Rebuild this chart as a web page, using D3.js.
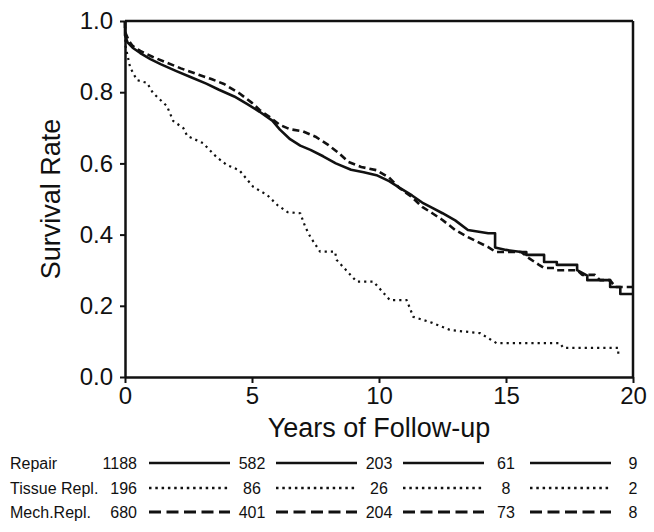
<!DOCTYPE html>
<html><head><meta charset="utf-8">
<script src="https://cdn.jsdelivr.net/npm/d3@7"></script>
<style>
html,body{margin:0;padding:0;background:#fff;}
svg text{font-family:"Liberation Sans",Arial,sans-serif;fill:#111;}
</style></head>
<body><svg id="chart" width="654" height="532"></svg>
<script>
// ---- data ----
const repairTimes = [0,0,0.1,0.3,0.6,1.0,1.4,2.0,2.6,3.2,3.7,4.3,4.8,5.3,5.8,6.1,6.5,6.9,7.3,7.8,8.3,8.9,9.4,9.9,10.4,10.8,11.3,11.7,12.1,12.5,13.0,13.5,14.3,14.57,14.57,15.0,15.6,15.8,15.8,16.5,16.5,17.0,17.0,17.8,17.8,18.2,18.2,19.1,19.1,19.5,19.5,20];
const repairSurv  = [1.0,0.96,0.94,0.925,0.91,0.893,0.879,0.86,0.842,0.824,0.807,0.788,0.767,0.745,0.72,0.695,0.668,0.65,0.638,0.62,0.60,0.582,0.575,0.567,0.55,0.532,0.51,0.49,0.475,0.46,0.44,0.413,0.404,0.404,0.364,0.357,0.351,0.351,0.343,0.343,0.323,0.323,0.315,0.315,0.30,0.285,0.272,0.272,0.253,0.253,0.233,0.233];
const tissueTimes = [0,0.02,0.2,0.47,0.87,1.1,1.65,1.9,2.3,2.45,3.07,3.6,4.0,4.5,5.05,5.6,6.0,6.4,6.9,7.1,7.3,7.68,8.27,8.33,9.12,9.78,10.43,11.09,11.35,12.1,12.8,13.98,14.63,17.13,17.25,19.42,19.42];
const tissueSurv  = [1.0,0.93,0.87,0.834,0.826,0.798,0.761,0.719,0.699,0.677,0.657,0.618,0.596,0.581,0.534,0.511,0.483,0.463,0.46,0.421,0.393,0.352,0.352,0.329,0.268,0.268,0.216,0.216,0.169,0.152,0.132,0.123,0.095,0.095,0.082,0.082,0.064];
const mechTimes = [0,0,0.15,0.3,0.6,1.1,1.6,2.2,2.9,3.4,3.9,4.5,5.0,5.3,5.7,6.1,6.5,7.0,7.5,8.0,8.4,8.8,9.3,9.9,10.4,10.8,11.3,11.7,12.1,12.5,13.0,13.5,13.9,14.3,14.6,15.6,15.9,16.3,16.5,16.9,17.0,17.8,18.0,18.5,18.7,19.1,19.3,20];
const mechSurv  = [1.0,0.97,0.945,0.93,0.916,0.899,0.884,0.867,0.849,0.837,0.823,0.797,0.77,0.75,0.73,0.708,0.696,0.69,0.675,0.652,0.63,0.604,0.59,0.581,0.56,0.531,0.505,0.478,0.46,0.441,0.413,0.393,0.379,0.365,0.351,0.351,0.334,0.315,0.306,0.306,0.30,0.30,0.287,0.287,0.272,0.272,0.253,0.253];

const xTicks = [0,5,10,15,20];
const yTicks = [0,0.2,0.4,0.6,0.8,1.0];
const groupNames = ["Repair","Tissue Repl.","Mech.Repl."];
const atRiskRepair = [1188,582,203,61,9];
const atRiskTissue = [196,86,26,8,2];
const atRiskMech   = [680,401,204,73,8];
const xTitle = "Years of Follow-up";
const yTitle = "Survival Rate";

// ---- layout ----
const svg = d3.select("#chart");
const L=125, R=633, T=21, B=377;
const x = d3.scaleLinear().domain([0,20]).range([L,R]);
const y = d3.scaleLinear().domain([0,1]).range([B,T]);

const styles = [
  {w:2.6, dash:null, ldash:null, lw:2.6},
  {w:2.2, dash:"2.2,4", ldash:"2.5,3.8", lw:2.5},
  {w:2.6, dash:"7,4", ldash:"12,5.5", lw:3}
];

// curves
const series = [
  d3.zip(repairTimes, repairSurv),
  d3.zip(tissueTimes, tissueSurv),
  d3.zip(mechTimes, mechSurv)
];
const line = d3.line().x(d=>x(d[0])).y(d=>y(d[1])).curve(d3.curveLinear);
series.forEach((s,i)=>{
  svg.append("path").attr("d", line(s)).attr("fill","none")
    .attr("stroke","#111").attr("stroke-width",styles[i].w)
    .attr("stroke-linejoin","round")
    .attr("stroke-dasharray", styles[i].dash);
});

// frame (top/right)
svg.append("line").attr("x1",L).attr("x2",R).attr("y1",T).attr("y2",T).attr("stroke","#111").attr("stroke-width",2.5);
svg.append("line").attr("x1",R).attr("x2",R).attr("y1",T).attr("y2",B).attr("stroke","#111").attr("stroke-width",2.5);

// axes
const xAxis = svg.append("g").attr("transform",`translate(0,${B})`)
  .call(d3.axisBottom(x).tickValues(xTicks).tickSize(6).tickPadding(4).tickSizeOuter(0));
const yAxis = svg.append("g").attr("transform",`translate(${L},0)`)
  .call(d3.axisLeft(y).tickValues(yTicks).tickSize(5).tickPadding(7).tickFormat(d3.format(".1f")).tickSizeOuter(0));
[xAxis,yAxis].forEach(a=>{
  a.select(".domain").attr("stroke","#111").attr("stroke-width",2.5);
  a.selectAll(".tick line").attr("stroke","#111").attr("stroke-width",2);
  a.selectAll(".tick text").attr("font-size",24).attr("font-family","Liberation Sans, Arial, sans-serif").attr("fill","#111");
});

// titles
svg.append("text").attr("x",(L+R)/2).attr("y",437).attr("text-anchor","middle")
  .attr("font-size",27).text(xTitle);
svg.append("text").attr("transform",`translate(60,${(T+B)/2}) rotate(-90)`).attr("text-anchor","middle")
  .attr("font-size",27).text(yTitle);

// at-risk table
const rows = [atRiskRepair, atRiskTissue, atRiskMech];
const rowBase = [469,494,518];
rows.forEach((vals,i)=>{
  const g = svg.append("g");
  g.append("text").attr("x",10).attr("y",rowBase[i]).attr("font-size",16).text(groupNames[i]);
  vals.forEach((v,j)=>{
    const t = xTicks[j];
    g.append("text")
      .attr("x", j===0 ? 137 : x(t))
      .attr("y", rowBase[i])
      .attr("text-anchor", j===0 ? "end" : "middle")
      .attr("font-size",16).text(v);
    if (j < vals.length-1) {
      g.append("line")
        .attr("x1", x(t)+24).attr("x2", x(xTicks[j+1])-22)
        .attr("y1", rowBase[i]-6).attr("y2", rowBase[i]-6)
        .attr("stroke","#111").attr("stroke-width",styles[i].lw)
        .attr("stroke-dasharray", styles[i].ldash);
    }
  });
});
</script></body></html>
